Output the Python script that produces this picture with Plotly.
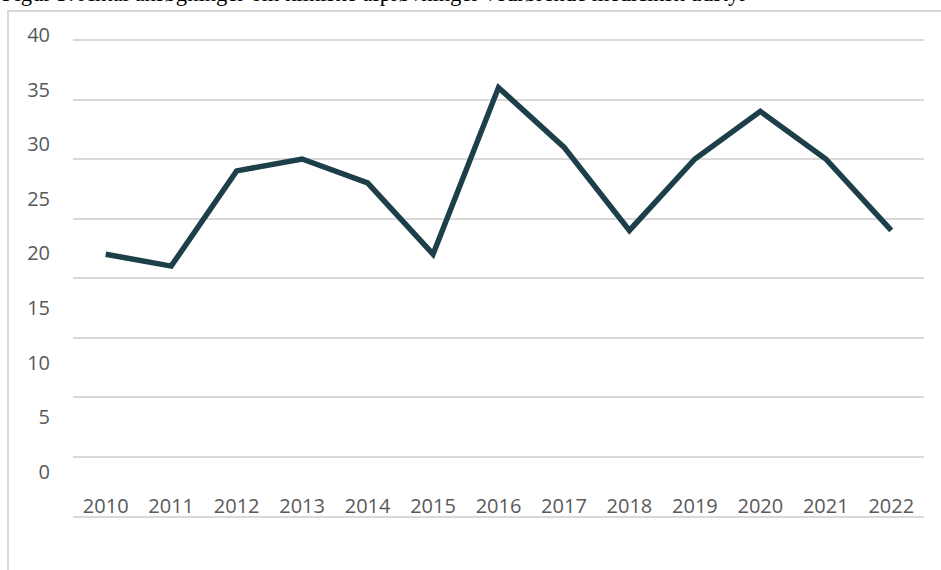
import plotly.graph_objects as go

years = ["2010", "2011", "2012", "2013", "2014", "2015", "2016",
         "2017", "2018", "2019", "2020", "2021", "2022"]
values = [22, 21, 29, 30, 28, 22, 36, 31, 24, 30, 34, 30, 24]
y_ticks = [0, 5, 10, 15, 20, 25, 30, 35, 40]
title_text = "Figur 3: Antal ansøgninger om kliniske afprøvninger vedrørende medicinsk udstyr"

W, H = 941, 570
L, R, T, B = 73, 17, 30, 54
plot_top = 40      # pixel of value 40 gridline
plot_bot = 516     # pixel of value 0
ph = H - T - B
pw = W - L - R

# main (gridline) axis: extend slightly above 40 so the top gridline is drawn
px_per_unit = (plot_bot - plot_top) / 40.0
y_max = 40.4
dom_top_px = plot_bot - y_max * px_per_unit

# label axis mapping (labels sit slightly off the gridlines, as in the reference)
lab_top_px, lab_bot_px = 35.0, 471.7
k = (lab_bot_px - lab_top_px) / 40.0
y2_top = (lab_bot_px - T) / k
y2_bot = (lab_bot_px - (H - B)) / k

fig = go.Figure()
fig.add_trace(go.Scatter(
    x=years, y=values, mode="lines",
    line=dict(color="#1c3f4a", width=5.5),
    xaxis="x", yaxis="y", hoverinfo="x+y", showlegend=False,
))
fig.add_trace(go.Scatter(
    x=years, y=values, mode="lines", opacity=0,
    xaxis="x", yaxis="y2", hoverinfo="skip", showlegend=False,
))

fig.update_layout(
    template="none",
    width=W, height=H,
    margin=dict(l=L, r=R, t=T, b=B, autoexpand=False),
    paper_bgcolor="white", plot_bgcolor="rgba(0,0,0,0)",
    font=dict(family="Open Sans", color="#595959", size=20),
    xaxis=dict(
        type="category", range=[-0.5, len(years) - 0.5],
        showgrid=False, showline=True, linecolor="#d9d9d9", linewidth=2,
        ticks="", ticklabelposition="inside",
        tickfont=dict(family="Open Sans", size=20, color="#595959"),
        anchor="y", automargin=False, zeroline=False,
    ),
    yaxis=dict(
        range=[0, y_max], domain=[0, (plot_bot - dom_top_px) / ph],
        tickvals=y_ticks, showgrid=True, gridcolor="#d9d9d9", gridwidth=2,
        showticklabels=False, zeroline=False, ticks="", showline=False,
        anchor="x", automargin=False,
    ),
    yaxis2=dict(
        range=[y2_bot, y2_top], domain=[0, 1],
        tickvals=y_ticks, ticktext=[str(v) for v in y_ticks],
        showgrid=False, zeroline=False, showline=False, ticks="",
        ticklabelstandoff=22,
        tickfont=dict(family="Open Sans", size=20, color="#595959"),
        anchor="x", side="left", automargin=False,
    ),
    shapes=[dict(
        type="rect", xref="paper", yref="paper",
        x0=(8 - L) / pw, x1=1.2,
        y0=-0.2, y1=((H - B) - 11) / ph,
        line=dict(color="#d9d9d9", width=2), fillcolor="rgba(0,0,0,0)",
        layer="below",
    )],
    annotations=[dict(
        text=title_text, xref="paper", yref="paper",
        x=(0 - L) / pw, xanchor="left",
        y=((H - B) - 8) / ph, yanchor="bottom",
        showarrow=False,
        font=dict(family="Liberation Serif", size=22.6, color="#000000"),
    )],
)

fig.write_html("out.html", config={"displayModeBar": False},
               post_script="document.body.style.margin='0';")
